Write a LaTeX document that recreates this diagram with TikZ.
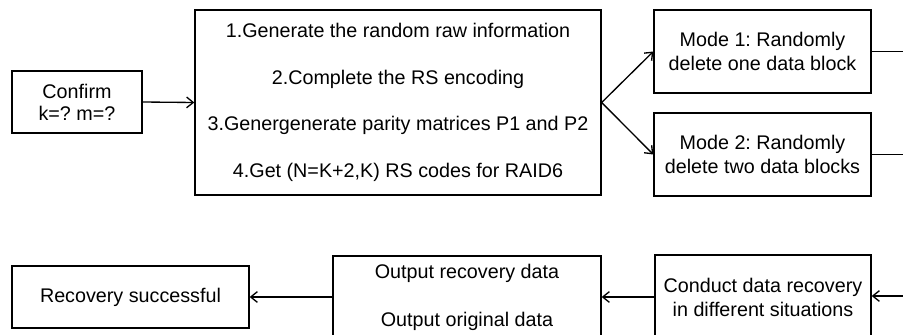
\documentclass[tikz,border=0pt]{standalone}
\usepackage{fontspec}
\setmainfont{Liberation Sans}
\usetikzlibrary{arrows.meta}
\frenchspacing
\begin{document}
\begin{tikzpicture}[x=0.75pt,y=-0.75pt,
  box/.style={draw,line width=1pt,inner sep=0pt,align=center,anchor=center},
  conn/.style={line width=1pt},
  arr/.style={line width=1pt,-{Straight Barb[length=5pt,width=8pt]}}]
\useasboundingbox (0,0) rectangle (903,335);
\clip (0,0) rectangle (903,335);
\fill[white] (0,0) rectangle (903,335);
\node[box,minimum width=97.5pt,minimum height=46.5pt,font=\fontsize{14.8}{16.5}\selectfont] (confirm) at (77,102) {Confirm\\k=? m=?};
\node[box,minimum width=304.5pt,minimum height=138.75pt,font=\fontsize{14.8}{35}\selectfont] (gen) at (398,102.5) {1.Generate the random raw information\\2.Complete the RS encoding\\3.Genergenerate parity matrices P1 and P2\\4.Get (N=K+2,K) RS codes for RAID6};
\node[box,minimum width=162.75pt,minimum height=62.25pt,font=\fontsize{14.8}{18}\selectfont] (m1) at (762.5,51.5) {Mode 1: Randomly\\delete one data block};
\node[box,minimum width=162.75pt,minimum height=62.25pt,font=\fontsize{14.8}{18}\selectfont] (m2) at (762.5,154.5) {Mode 2: Randomly\\delete two data blocks};
\node[box,minimum width=177.75pt,minimum height=46.5pt,font=\fontsize{14.8}{18}\selectfont] (succ) at (130.5,297) {Recovery successful};
\node[box,minimum width=201pt,minimum height=61.5pt,font=\fontsize{14.8}{36}\selectfont] (out) at (467,297) {Output recovery data\\Output original data};
\node[box,minimum width=162pt,minimum height=63pt,font=\fontsize{14.8}{18}\selectfont] (cond) at (763,297) {Conduct data recovery\\in different situations};
\coordinate (e1) at (905,51.5);
\coordinate (e2) at (905,154.5);
\coordinate (e3) at (905,296);
\draw[arr] (confirm.east) -- (gen.west);
\draw[arr] (gen.east) -- (m1.west);
\draw[arr] (gen.east) -- (m2.west);
\draw[conn] (m1.east) -- (e1);
\draw[conn] (m2.east) -- (e2);
\draw[arr] (e3) -- (cond.east |- e3);
\draw[arr] (cond.west) -- (out.east |- cond.west);
\draw[arr] (out.west) -- (succ.east);
\end{tikzpicture}
\end{document}
